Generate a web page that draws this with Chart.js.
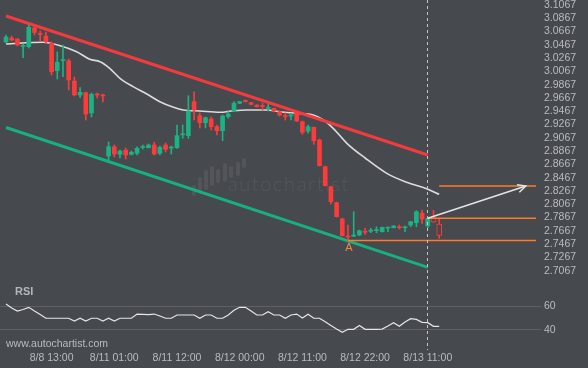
<!DOCTYPE html>
<html>
<head>
<meta charset="utf-8">
<script src="https://cdn.jsdelivr.net/npm/chart.js@4.4.1/dist/chart.umd.min.js"></script>
<style>
  html, body { margin: 0; padding: 0; background: #46494e; }
  #wrap { position: relative; width: 588px; height: 368px; overflow: hidden; }
  #main { position: absolute; left: 0; top: 0; }
  #rsi { position: absolute; left: 0; top: 283px; }
</style>
</head>
<body>
<div id="wrap">
  <canvas id="main" width="588" height="283"></canvas>
  <canvas id="rsi" width="588" height="85"></canvas>
</div>
<script>
// hourly candles, index 0..76 (75 and 76 are the newest, drawn hollow)
const openP = [
  3.0510, 3.0570, 3.0555, 3.0442, 3.0439, 3.0721, 3.0638, 3.0600, 3.0490, 3.0078,
  3.0231, 3.0228, 2.9922, 2.9712, 2.9746, 2.9441, 2.9727, 2.9712, 2.8793, 2.8933,
  2.8819, 2.8883, 2.8819, 2.8834, 2.8921, 2.8918, 2.8959, 2.8834, 2.8959, 2.8913,
  2.8918, 2.9112, 2.9099, 2.9611, 2.9400, 2.9294, 2.9350, 2.9234, 2.9174, 2.9385,
  2.9471, 2.9587, 2.9629, 2.9596, 2.9561, 2.9553, 2.9513, 2.9511, 2.9460, 2.9403,
  2.9395, 2.9436, 2.9310, 2.9169, 2.9225, 2.9034, 2.8632, 2.8331, 2.8090, 2.7844,
  2.7588, 2.7585, 2.7603, 2.7660, 2.7660, 2.7671, 2.7653, 2.7706, 2.7713, 2.7727,
  2.7712, 2.7754, 2.7788, 2.7930, 2.7739, 2.7864, 2.7769
];
const highP = [
  3.0615, 3.0600, 3.0560, 3.0480, 3.0766, 3.0751, 3.0675, 3.0660, 3.0510, 3.0359,
  3.0465, 3.0254, 2.9983, 2.9822, 2.9757, 2.9742, 2.9742, 2.9727, 2.9004, 2.8959,
  2.8883, 2.8913, 2.8868, 2.8933, 2.8959, 2.8974, 2.8999, 2.8944, 2.8989, 2.8944,
  2.9260, 2.9260, 2.9701, 2.9761, 2.9441, 2.9380, 2.9380, 2.9260, 2.9410, 2.9460,
  2.9611, 2.9617, 2.9636, 2.9602, 2.9566, 2.9587, 2.9572, 2.9516, 2.9471, 2.9441,
  2.9436, 2.9456, 2.9320, 2.9260, 2.9230, 2.9049, 2.8642, 2.8341, 2.8100, 2.7859,
  2.7754, 2.7954, 2.7679, 2.7704, 2.7704, 2.7728, 2.7724, 2.7728, 2.7746, 2.7754,
  2.7739, 2.7810, 2.7969, 2.7980, 2.7859, 2.7975, 2.7844
];
const lowP = [
  3.0495, 3.0525, 3.0450, 3.0273, 3.0419, 3.0615, 3.0529, 3.0495, 3.0013, 2.9953,
  2.9987, 2.9787, 2.9697, 2.9671, 2.9335, 2.9380, 2.9666, 2.9606, 2.8733, 2.8778,
  2.8763, 2.8748, 2.8808, 2.8808, 2.8898, 2.8913, 2.8808, 2.8808, 2.8853, 2.8823,
  2.8909, 2.9060, 2.9060, 2.9335, 2.9215, 2.9215, 2.9185, 2.9109, 2.9023, 2.9361,
  2.9460, 2.9581, 2.9606, 2.9561, 2.9531, 2.9486, 2.9471, 2.9463, 2.9395, 2.9335,
  2.9335, 2.9310, 2.9120, 2.9135, 2.8969, 2.8642, 2.8341, 2.8066, 2.7874, 2.7588,
  2.7517, 2.7578, 2.7593, 2.7614, 2.7638, 2.7638, 2.7648, 2.7653, 2.7709, 2.7694,
  2.7653, 2.7728, 2.7728, 2.7779, 2.7709, 2.7795, 2.7554
];
const closeP = [
  3.0585, 3.0540, 3.0465, 3.0457, 3.0731, 3.0653, 3.0623, 3.0514, 3.0063, 3.0204,
  3.0246, 2.9938, 2.9712, 2.9752, 2.9426, 2.9722, 2.9712, 2.9697, 2.8933, 2.8823,
  2.8868, 2.8808, 2.8849, 2.8909, 2.8936, 2.8959, 2.8823, 2.8924, 2.8894, 2.8928,
  2.9099, 2.9127, 2.9471, 2.9486, 2.9294, 2.9370, 2.9234, 2.9174, 2.9395, 2.9426,
  2.9587, 2.9611, 2.9614, 2.9572, 2.9535, 2.9538, 2.9528, 2.9471, 2.9410, 2.9388,
  2.9410, 2.9320, 2.9150, 2.9234, 2.9023, 2.8647, 2.8346, 2.8105, 2.7879, 2.7593,
  2.7573, 2.7603, 2.7668, 2.7645, 2.7676, 2.7686, 2.7719, 2.7721, 2.7739, 2.7712,
  2.7727, 2.7804, 2.7954, 2.7844, 2.7855, 2.7795, 2.7599
];
const firstHollow = 75;

// moving average as [candle index, price]
const maPoints = [
  [0, 3.0480], [6.5, 3.0505], [9.5, 3.0454], [12.4, 3.0364], [14.7, 3.0249],
  [16.5, 3.0213], [18.2, 3.0114], [20, 2.9963], [22.3, 2.9837], [24.7, 2.9727],
  [27, 2.9611], [29.4, 2.9526], [31.1, 2.9486], [34, 2.9471], [37.5, 2.9451],
  [39.9, 2.9475], [42.2, 2.9486], [45.7, 2.9486], [48.1, 2.9460], [51, 2.9436],
  [53.9, 2.9410], [55.7, 2.9335], [57.4, 2.9210], [59.8, 2.8984], [63, 2.8763],
  [66.8, 2.8532], [70.3, 2.8397], [73.8, 2.8300], [76, 2.8216]
];

const rsiValues = [
  61.7, 58.3, 55.8, 57.1, 58.9, 55.8, 52.9, 49.8, 49.8, 49.8,
  49.8, 49.8, 47.5, 49.8, 47.5, 49.8, 49.8, 47.5, 49.8, 47.5,
  49.8, 49.8, 49.8, 53.3, 53.1, 52.8, 53.3, 51.7, 49.8, 49.8,
  52.5, 52.5, 52.5, 52.5, 49.8, 52.5, 52.5, 49.8, 49.8, 52.5,
  56.4, 58.9, 58.9, 55.8, 52.5, 52.5, 55.3, 52.5, 52.5, 49.8,
  52.5, 53.3, 50.0, 53.1, 49.8, 49.8, 46.9, 43.8, 40.8, 38.1,
  40.6, 40.6, 43.8, 40.6, 40.6, 40.6, 40.8, 43.3, 46.1, 43.1,
  46.7, 49.4, 48.8, 46.4, 46.1, 43.1, 43.1
];

// pattern lines [index, price]
const resistanceLine = [[0, 3.0901], [74, 2.8808]];
const supportLine = [[0, 2.9222], [74, 2.7117]];
const breakoutLevel = [[74, 2.7855], [93, 2.7855]];
const targetLevel = [[76, 2.8341], [93, 2.8341]];
const pivotLevel = [[60, 2.7520], [93, 2.7520]];
const forecastArrow = [[74, 2.7855], [91.2, 2.8341]];
const pivotIndex = 60;
const nowIndex = 74;

const priceTicks = [
  2.7067, 2.7267, 2.7467, 2.7667, 2.7867, 2.8067, 2.8267, 2.8467, 2.8667, 2.8867,
  2.9067, 2.9267, 2.9467, 2.9667, 2.9867, 3.0067, 3.0267, 3.0467, 3.0667, 3.0867, 3.1067
];
const rsiTicks = [40, 60];
const timeLabels = ["8/8 13:00", "8/11 01:00", "8/11 12:00", "8/12 00:00", "8/12 11:00", "8/12 22:00", "8/13 11:00"];
const timeLabelIdx = [8, 19, 30, 41, 52, 63, 74];

const BG = "#46494e";
const GREEN = "#1bb383";
const RED = "#fd3b3b";
const ORANGE = "#ff7a2a";
const TEXT = "#b9bbbe";
const FONT = '"Liberation Sans", Arial, sans-serif';
const xMin = -1.05, xMax = 93.86;

const toXY = pts => pts.map(p => ({ x: p[0], y: p[1] }));
const idx = closeP.map((_, i) => i);
const colorOf = i => closeP[i] >= openP[i] ? GREEN : RED;

const wickData = idx.map(i => ({ x: i, y: [lowP[i], highP[i]] }));
const solid = idx.filter(i => i < firstHollow);
const hollow = idx.filter(i => i >= firstHollow);
const bodyData = solid.map(i => ({ x: i, y: [openP[i], closeP[i]] }));
const hollowData = hollow.map(i => ({ x: i, y: [openP[i], closeP[i]] }));

function lineSet(pts, color, width, order) {
  return { type: "line", data: toXY(pts), borderColor: color, borderWidth: width,
           pointRadius: 0, tension: 0, order: order };
}

// keep the plot areas exactly where the reference has them
function noEdgePadding(s) {
  s.paddingTop = 0; s.paddingBottom = 0; s.paddingLeft = 0; s.paddingRight = 0;
}

function dashedNow(chart, bottom) {
  const ctx = chart.ctx;
  const x = Math.round(chart.scales.x.getPixelForValue(nowIndex)) - 0.5;
  ctx.save();
  ctx.strokeStyle = "#c4c4c4";
  ctx.lineWidth = 1;
  ctx.setLineDash([3, 3]);
  ctx.beginPath();
  ctx.moveTo(x, 0);
  ctx.lineTo(x, bottom);
  ctx.stroke();
  ctx.restore();
}

const mainDeco = {
  id: "mainDeco",
  beforeDatasetsDraw(chart) {
    const ctx = chart.ctx;
    ctx.save();
    ctx.fillStyle = "rgba(255,255,255,0.07)";
    // logo bars
    const bars = [[194, 185, 196], [200, 177, 194], [206, 170, 190], [212, 166, 186], [218, 169, 183],
                  [225, 163, 182], [231, 166, 178], [238, 162, 176], [244, 158, 168]];
    bars.forEach(b => {
      ctx.beginPath();
      ctx.roundRect(b[0] - 2, b[1], 4, b[2] - b[1], 2);
      ctx.fill();
    });
    ctx.font = "300 20px Lato, sans-serif";
    ctx.letterSpacing = "1.6px";
    ctx.textBaseline = "alphabetic";
    ctx.fillText("autochartist", 228, 191);
    ctx.restore();
  },
  afterDatasetsDraw(chart) {
    const ctx = chart.ctx, xs = chart.scales.x, ys = chart.scales.y;
    dashedNow(chart, chart.height);

    // arrow head
    const x1 = xs.getPixelForValue(forecastArrow[0][0]), y1 = ys.getPixelForValue(forecastArrow[0][1]);
    const x2 = xs.getPixelForValue(forecastArrow[1][0]), y2 = ys.getPixelForValue(forecastArrow[1][1]);
    const ang = Math.atan2(y2 - y1, x2 - x1);
    ctx.save();
    ctx.strokeStyle = "#e4e4e4";
    ctx.lineWidth = 1.5;
    ctx.beginPath();
    ctx.moveTo(x2 - 9 * Math.cos(ang - 0.45), y2 - 9 * Math.sin(ang - 0.45));
    ctx.lineTo(x2, y2);
    ctx.lineTo(x2 - 9 * Math.cos(ang + 0.45), y2 - 9 * Math.sin(ang + 0.45));
    ctx.stroke();

    // pivot marker
    ctx.fillStyle = "#f08a3c";
    ctx.font = "11px " + FONT;
    ctx.textAlign = "center";
    ctx.textBaseline = "middle";
    ctx.fillText("A", xs.getPixelForValue(pivotIndex) + 1, ys.getPixelForValue(lowP[pivotIndex]) + 7);
    ctx.restore();
  }
};

const rsiDeco = {
  id: "rsiDeco",
  afterDraw(chart) {
    const ctx = chart.ctx;
    dashedNow(chart, 67);
    ctx.save();
    ctx.fillStyle = "#b3b6ba";
    ctx.font = "bold 11px " + FONT;
    ctx.textBaseline = "middle";
    ctx.fillText("RSI", 15, 8.5);
    ctx.fillStyle = TEXT;
    ctx.font = "10.5px " + FONT;
    ctx.fillText("www.autochartist.com", 6, 61.5);
    ctx.restore();
  }
};

new Chart(document.getElementById("main"), {
  type: "bar",
  data: {
    datasets: [
      lineSet(forecastArrow, "#e4e4e4", 1.5, 1),
      lineSet(targetLevel, ORANGE, 1.5, 2),
      lineSet(breakoutLevel, ORANGE, 1.5, 2),
      lineSet(pivotLevel, ORANGE, 1.5, 2),
      { type: "bar", data: hollowData, backgroundColor: BG, borderColor: RED, borderWidth: 1,
        borderSkipped: false, grouped: false, barThickness: 5, maxBarThickness: 5, order: 3 },
      { type: "bar", data: bodyData, backgroundColor: solid.map(colorOf), grouped: false,
        barThickness: 4, maxBarThickness: 4, minBarLength: 1, order: 4 },
      { type: "bar", data: wickData, backgroundColor: idx.map(colorOf), grouped: false,
        barThickness: 1, maxBarThickness: 1, minBarLength: 1, order: 5 },
      lineSet(resistanceLine, "#f23b3d", 3, 6),
      lineSet(supportLine, "#17b080", 3, 6),
      { type: "line", data: toXY(maPoints), borderColor: "#dcdcdc", borderWidth: 1.6,
        pointRadius: 0, cubicInterpolationMode: "monotone", order: 7 }
    ]
  },
  options: {
    responsive: false,
    animation: false,
    events: [],
    layout: { padding: { bottom: 3 } },
    plugins: { legend: { display: false }, tooltip: { enabled: false } },
    scales: {
      x: { type: "linear", min: xMin, max: xMax, offset: false, display: false },
      y: {
        type: "linear", position: "right", min: 2.6926, max: 3.1142,
        grid: { display: false, drawTicks: false }, border: { display: false },
        afterBuildTicks: s => { s.ticks = priceTicks.map(v => ({ value: v })); },
        afterFit: s => { s.width = 47; noEdgePadding(s); },
        ticks: { autoSkip: false, color: TEXT, padding: 3, font: { family: FONT, size: 10.5 },
                 callback: v => v.toFixed(4) }
      }
    }
  },
  plugins: [mainDeco]
});

new Chart(document.getElementById("rsi"), {
  type: "line",
  data: {
    datasets: [{ data: rsiValues.map((v, i) => ({ x: i, y: v })), borderColor: "#e6e6e6",
                 borderWidth: 1.2, pointRadius: 0, tension: 0 }]
  },
  options: {
    responsive: false,
    animation: false,
    events: [],
    layout: { padding: { top: 3 } },
    plugins: { legend: { display: false }, tooltip: { enabled: false } },
    scales: {
      x: {
        type: "linear", min: xMin, max: xMax,
        grid: { display: false, drawTicks: false }, border: { display: false },
        afterBuildTicks: s => { s.ticks = timeLabelIdx.map(v => ({ value: v })); },
        afterFit: s => { s.height = 24; noEdgePadding(s); },
        ticks: { autoSkip: false, maxRotation: 0, color: TEXT, padding: 8,
                 font: { family: FONT, size: 10.5 },
                 callback: (v, i) => timeLabels[i] }
      },
      y: {
        type: "linear", position: "right", min: 28.33, max: 76.67,
        grid: { color: "#5d6065", drawTicks: false }, border: { display: false },
        afterBuildTicks: s => { s.ticks = rsiTicks.map(v => ({ value: v })); },
        afterFit: s => { s.width = 47; noEdgePadding(s); },
        ticks: { autoSkip: false, color: TEXT, padding: 3, font: { family: FONT, size: 10.5 } }
      }
    }
  },
  plugins: [rsiDeco]
});
</script>
</body>
</html>
